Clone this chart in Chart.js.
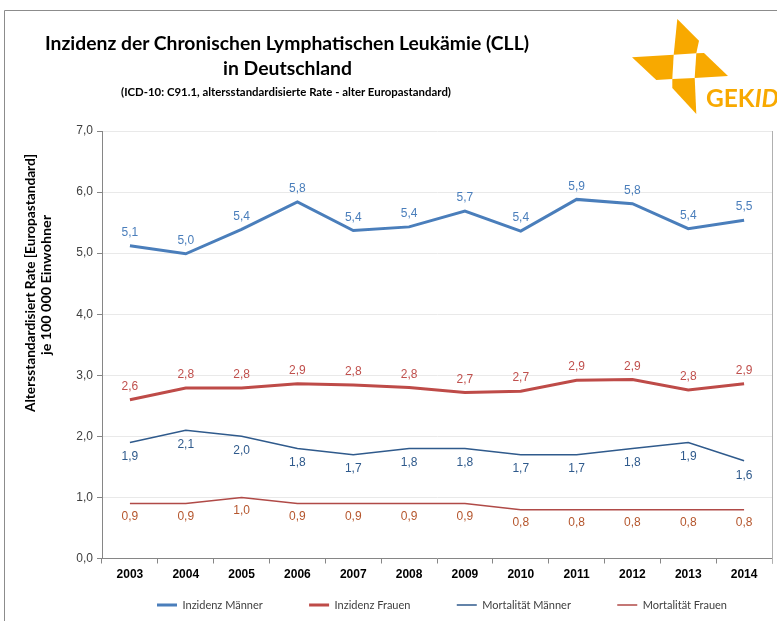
<!DOCTYPE html>
<html>
<head>
<meta charset="utf-8">
<script src="https://cdn.jsdelivr.net/npm/chart.js@4.4.1/dist/chart.umd.min.js"></script>
<style>
html,body{margin:0;padding:0;background:#fff;}
#wrap{position:relative;width:777px;height:621px;overflow:hidden;background:#fff;}
#c{position:absolute;left:0;top:0;}
#overlay{position:absolute;left:0;top:0;pointer-events:none;}
</style>
</head>
<body>
<div id="wrap">
<canvas id="c" width="777" height="621"></canvas>
<svg id="overlay" width="777" height="621" xmlns="http://www.w3.org/2000/svg">
  <path d="M4.5 621 V10.5 H777" stroke="#8c8c8c" stroke-width="1" fill="none"/>
  <g font-family="Lato" font-weight="bold" fill="#000" text-anchor="middle">
    <text x="287" y="50" font-size="18" textLength="484" lengthAdjust="spacingAndGlyphs">Inzidenz der Chronischen Lymphatischen Leukämie (CLL)</text>
    <text x="287.5" y="75" font-size="18" textLength="129" lengthAdjust="spacingAndGlyphs">in Deutschland</text>
    <text x="286" y="95.5" font-size="10.5" textLength="330" lengthAdjust="spacingAndGlyphs">(ICD-10: C91.1, altersstandardisierte Rate - alter Europastandard)</text>
    <text transform="translate(35,283) rotate(-90)" font-size="13" textLength="258" lengthAdjust="spacingAndGlyphs">Altersstandardisiert Rate [Europastandard]</text>
    <text transform="translate(50.5,285) rotate(-90)" font-size="13" textLength="140" lengthAdjust="spacingAndGlyphs">je 100 000 Einwohner</text>
  </g>
  <g fill="#F8A900">
    <polygon points="677.3,19 699,40.7 696.3,53.3 673.7,54.7"/>
    <polygon points="696.3,53.3 704,53 728,76 694.7,78"/>
    <polygon points="632,57.3 673.7,54.7 672.3,79 656.3,80"/>
    <polygon points="672.3,79 694.7,78 696.3,114 672.3,88"/>
    <text x="706" y="106.5" font-family="Lato" font-weight="bold" font-size="24.5">GEK<tspan font-style="italic">ID</tspan></text>
  </g>
</svg>
</div>
<script>
// ---- data ----
const years = ['2003','2004','2005','2006','2007','2008','2009','2010','2011','2012','2013','2014'];
const inzidenzMaenner = [5.12, 4.99, 5.39, 5.84, 5.37, 5.43, 5.69, 5.36, 5.88, 5.81, 5.40, 5.54];
const inzidenzFrauen = [2.60, 2.79, 2.79, 2.86, 2.84, 2.80, 2.72, 2.74, 2.92, 2.93, 2.76, 2.86];
const mortalitaetMaenner = [1.9, 2.1, 2.0, 1.8, 1.7, 1.8, 1.8, 1.7, 1.7, 1.8, 1.9, 1.6];
const mortalitaetFrauen = [0.9, 0.9, 1.0, 0.9, 0.9, 0.9, 0.9, 0.8, 0.8, 0.8, 0.8, 0.8];
const seriesNames = ['Inzidenz Männer', 'Inzidenz Frauen', 'Mortalität Männer', 'Mortalität Frauen'];
const yTickValues = [0, 1, 2, 3, 4, 5, 6, 7];

const fmt = v => v.toFixed(1).replace('.', ',');

// legend spacing computed from text widths
const LEG_FONT = 11, LEG_BOX = 20, LEG_SPAN = 570, LEG_CENTER = 442, LEG_Y = 605;
const mctx = document.createElement('canvas').getContext('2d');
mctx.font = LEG_FONT + 'px Lato';
const legItemsSum = seriesNames.reduce((s, n) => s + LEG_BOX + LEG_FONT / 2 + mctx.measureText(n).width, 0);
const legPad = Math.max(10, (LEG_SPAN - legItemsSum) / 3);

const valueLabels = {
  id: 'valueLabels',
  afterDatasetsDraw(chart) {
    const ctx = chart.ctx;
    ctx.save();
    ctx.font = '12px "Liberation Sans"';
    ctx.textAlign = 'center';
    ctx.textBaseline = 'middle';
    chart.data.datasets.forEach((ds, i) => {
      const meta = chart.getDatasetMeta(i);
      ctx.fillStyle = ds.labelColor;
      meta.data.forEach((pt, j) => {
        ctx.fillText(fmt(ds.data[j]), pt.x, pt.y + ds.labelOffset);
      });
    });
    ctx.restore();
  }
};

const frameLine = {
  id: 'frameLine',
  afterDraw(chart) {
    const {ctx, chartArea: a} = chart;
    ctx.save();
    ctx.strokeStyle = '#b0b0b0';
    ctx.lineWidth = 1;
    const x = Math.round(a.right) + 0.5;
    ctx.beginPath();
    ctx.moveTo(x, a.top);
    ctx.lineTo(x, a.bottom + 5);
    ctx.stroke();
    ctx.restore();
  }
};

const legendPlace = {
  id: 'legendPlace',
  afterLayout(chart) {
    const lg = chart.legend;
    const dx = LEG_CENTER - (lg.left + lg.right) / 2;
    lg.left += dx; lg.right += dx;
    lg.top = LEG_Y - legPad - LEG_FONT / 2;
    lg.bottom = chart.height + 40;
    lg.height = lg.bottom - lg.top;
  }
};

function ds(label, data, color, width, labelColor, labelOffset) {
  return {
    label, data,
    borderColor: color,
    backgroundColor: color,
    borderWidth: width,
    pointRadius: 0,
    pointHoverRadius: 0,
    pointBorderWidth: width,
    pointBorderColor: color,
    tension: 0,
    fill: false,
    labelColor, labelOffset
  };
}

new Chart(document.getElementById('c'), {
  type: 'line',
  data: {
    labels: years,
    datasets: [
      ds(seriesNames[0], inzidenzMaenner, '#4A7EBB', 3, '#4A7EBB', -13),
      ds(seriesNames[1], inzidenzFrauen, '#BE4B48', 3, '#C0504D', -13),
      ds(seriesNames[2], mortalitaetMaenner, '#2F5A8C', 1.5, '#2F5A8C', 14.5),
      ds(seriesNames[3], mortalitaetFrauen, '#B04A47', 1.5, '#B5562D', 13.5)
    ]
  },
  options: {
    responsive: false,
    devicePixelRatio: 1,
    animation: false,
    layout: { padding: { top: 131, right: 5, bottom: 0.5, left: 0 } },
    scales: {
      x: {
        offset: true,
        grid: { offset: true, drawOnChartArea: false, drawTicks: true, tickLength: 5, tickColor: '#868686' },
        border: { color: '#868686', width: 1 },
        ticks: { font: { family: 'Liberation Sans', weight: 'bold', size: 12 }, color: '#000', padding: 4, maxRotation: 0, autoSkip: false },
        afterFit(s) { s.height = 28; }
      },
      y: {
        min: 0, max: 7,
        afterBuildTicks(s) { s.ticks = yTickValues.map(v => ({ value: v })); },
        grid: { color: '#e9e9e9', tickColor: '#868686', tickLength: 5, drawTicks: true },
        border: { color: '#868686', width: 1 },
        ticks: { callback: v => fmt(v), font: { family: 'Liberation Sans', size: 12 }, color: '#404040', padding: 4 },
        afterFit(s) { s.width = 102; }
      }
    },
    plugins: {
      title: { display: false },
      tooltip: { enabled: false },
      legend: {
        position: 'bottom',
        maxHeight: 34,
        labels: {
          usePointStyle: true,
          pointStyle: 'line',
          pointStyleWidth: LEG_BOX,
          boxWidth: LEG_BOX,
          padding: legPad,
          color: '#404040',
          font: { family: 'Lato', size: LEG_FONT }
        }
      }
    }
  },
  plugins: [valueLabels, frameLine, legendPlace]
});
</script>
</body>
</html>
